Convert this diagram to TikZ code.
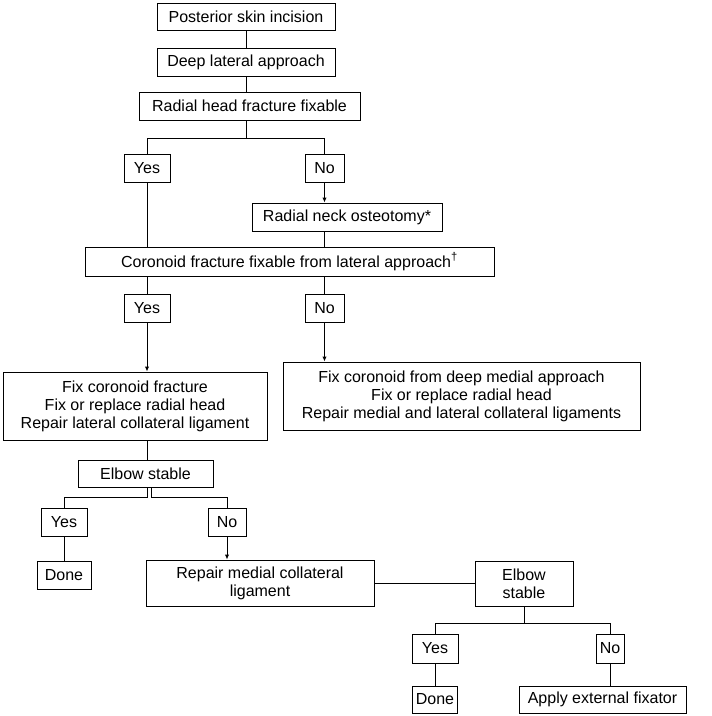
\documentclass[tikz,border=0pt]{standalone}
\usepackage{fontspec}
\setmainfont{Liberation Sans}
\usetikzlibrary{arrows.meta,calc}
\begin{document}
\begin{tikzpicture}[x=1pt,y=-1pt,
  bx/.style={draw, line width=1pt, inner sep=0pt, align=center, font=\fontsize{16}{18}\selectfont},
  ln/.style={line width=1pt},
  ar/.style={line width=1pt,-{Latex[length=5pt,width=4.5pt]}}]
\useasboundingbox (0,0) rectangle (712,716);
\node[bx,minimum width=178,minimum height=27] (psi) at (246,16.5) {Posterior skin incision};
\node[bx,minimum width=178,minimum height=28] (dla) at (246,62) {Deep lateral approach};
\node[bx,minimum width=221,minimum height=28] (rhf) at (249.5,106) {Radial head fracture fixable};
\node[bx,minimum width=46,minimum height=28] (yes1) at (147,168) {Yes};
\node[bx,minimum width=39,minimum height=28] (no1) at (324.5,168) {No};
\node[bx,minimum width=190,minimum height=28] (rno) at (347,217) {Radial neck osteotomy*};
\node[bx,minimum width=409,minimum height=29] (cor) at (289.5,261.5) {Coronoid fracture fixable from lateral approach\textsuperscript{†}};
\node[bx,minimum width=46,minimum height=28] (yes2) at (147,308) {Yes};
\node[bx,minimum width=39,minimum height=28] (no2) at (324.5,308) {No};
\node[bx,minimum width=264,minimum height=68] (lbox) at (135,406) {Fix coronoid fracture\\Fix or replace radial head\\Repair lateral collateral ligament};
\node[bx,minimum width=357,minimum height=68] (rbox) at (461.5,396) {Fix coronoid from deep medial approach\\Fix or replace radial head\\Repair medial and lateral collateral ligaments};
\node[bx,minimum width=135,minimum height=27] (es1) at (145.5,473.5) {Elbow stable};
\node[bx,minimum width=46,minimum height=28] (yes3) at (64,522) {Yes};
\node[bx,minimum width=38,minimum height=28] (no3) at (227,522) {No};
\node[bx,minimum width=54,minimum height=28] (done1) at (64,575) {Done};
\node[bx,minimum width=228,minimum height=46] (rmc) at (260,583) {Repair medial collateral\\ligament};
\node[bx,minimum width=98,minimum height=45] (es2) at (524,583.5) {Elbow\\stable};
\node[bx,minimum width=46,minimum height=29] (yes4) at (435,648.5) {Yes};
\node[bx,minimum width=28,minimum height=29] (no4) at (610,648.5) {No};
\node[bx,minimum width=45,minimum height=27] (done2) at (435,699.5) {Done};
\node[bx,minimum width=167,minimum height=27] (aef) at (602.5,699.5) {Apply external fixator};
\coordinate (b1) at (246,138);
\coordinate (b2l) at (147,497);
\coordinate (b2r) at (151,497);
\coordinate (b3) at (524,623);
\draw[ln] (psi.south) -- (psi.south |- dla.north);
\draw[ln] (dla.south) -- (dla.south |- rhf.north);
\draw[ln] (dla.south |- rhf.south) -- (b1);
\draw[ln] (yes1.north) -- (yes1.north |- b1) -- (no1.north |- b1) -- (no1.north);
\draw[ar] (no1.south) -- (no1.south |- rno.north);
\draw[ln] (rno.south -| no1) -- (no1 |- cor.north);
\draw[ln] (yes1.south) -- (yes1.south |- cor.north);
\draw[ln] (cor.south -| yes2) -- (yes2.north);
\draw[ln] (cor.south -| no2) -- (no2.north);
\draw[ar] (yes2.south) -- (yes2.south |- lbox.north);
\draw[ar] (no2.south) -- (no2.south |- rbox.north);
\draw[ln] (lbox.south -| yes2) -- (yes2 |- es1.north);
\draw[ln] (es1.south -| b2l) -- (b2l) -- (b2l -| yes3) -- (yes3.north);
\draw[ln] (es1.south -| b2r) -- (b2r) -- (b2r -| no3) -- (no3.north);
\draw[ln] (yes3.south) -- (done1.north);
\draw[ar] (no3.south) -- (no3.south |- rmc.north);
\draw[ln] (rmc.east) -- (rmc.east -| es2.west);
\draw[ln] (es2.south) -- (b3);
\draw[ln] (yes4.north) -- (yes4.north |- b3) -- (no4.north |- b3) -- (no4.north);
\draw[ln] (yes4.south) -- (yes4.south |- done2.north);
\draw[ln] (no4.south) -- (no4.south |- aef.north);
\end{tikzpicture}
\end{document}
